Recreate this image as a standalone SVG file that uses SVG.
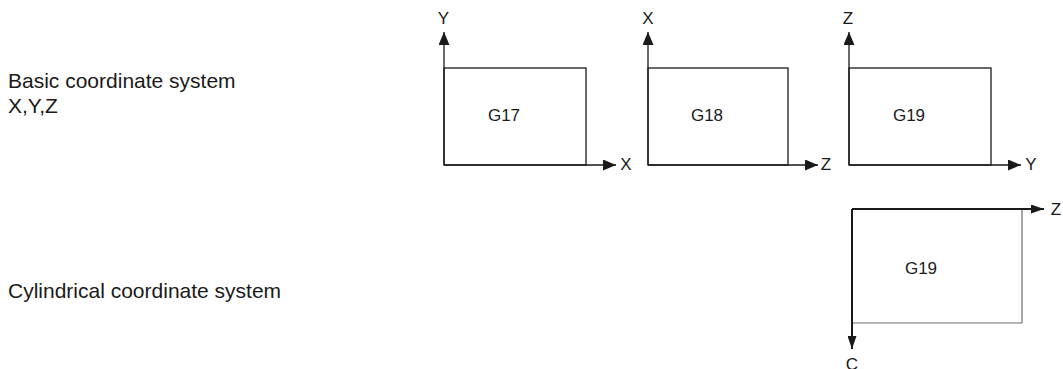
<svg xmlns="http://www.w3.org/2000/svg" width="1063" height="369" viewBox="0 0 1063 369">
<style>
  text { font-family: "Liberation Sans", Arial, sans-serif; fill: #1a1a1a; }
  .lbl { font-size: 17px; }
  .ax { font-size: 17px; }
  .side { font-size: 21px; }
  .box { fill: #ffffff; stroke: #1a1a1a; stroke-width: 1.3; }
  .axis { stroke: #1a1a1a; stroke-width: 1.3; fill: none; }
  .thick { stroke: #1a1a1a; stroke-width: 2; fill: none; }
  .thin { stroke: #6e6e6e; stroke-width: 1.2; fill: none; }
</style>
<defs>
  <marker id="arr" markerUnits="userSpaceOnUse" markerWidth="14" markerHeight="11" refX="13" refY="5.5" orient="auto">
    <path d="M0,0 L13,5.5 L0,11 Z" fill="#1a1a1a"/>
  </marker>
  <marker id="arr2" markerUnits="userSpaceOnUse" markerWidth="14" markerHeight="9" refX="13" refY="4.5" orient="auto">
    <path d="M0,0 L13,4.5 L0,9 Z" fill="#1a1a1a"/>
  </marker>
</defs>
<rect width="1063" height="369" fill="#ffffff"/>

<g id="side-labels">
  <text class="side" x="8" y="87.5">Basic coordinate system</text>
  <text class="side" x="8" y="112.5">X,Y,Z</text>
  <text class="side" x="8" y="298">Cylindrical coordinate system</text>
</g>

<g id="g17">
  <rect class="box" x="444" y="68" width="142" height="97"/>
  <text class="lbl" x="504" y="120.5" text-anchor="middle">G17</text>
  <text class="ax" x="443.5" y="23.5" text-anchor="middle">Y</text>
  <text class="ax" x="626" y="170" text-anchor="middle">X</text>
</g>
<g id="g18">
  <rect class="box" x="648" y="68" width="140" height="97"/>
  <text class="lbl" x="707" y="120.5" text-anchor="middle">G18</text>
  <text class="ax" x="648" y="23.5" text-anchor="middle">X</text>
  <text class="ax" x="826" y="170" text-anchor="middle">Z</text>
</g>
<g id="g19">
  <rect class="box" x="849" y="68" width="142" height="97"/>
  <text class="lbl" x="909" y="120.5" text-anchor="middle">G19</text>
  <text class="ax" x="848" y="23.5" text-anchor="middle">Z</text>
  <text class="ax" x="1031" y="170" text-anchor="middle">Y</text>
</g>
<g id="g19-cyl">
  <line class="thin" x1="1022" y1="209" x2="1022" y2="323"/>
  <line class="thin" x1="852" y1="323" x2="1022" y2="323"/>
  <text class="lbl" x="921" y="273.5" text-anchor="middle">G19</text>
  <text class="ax" x="1056" y="215" text-anchor="middle">Z</text>
  <text class="ax" x="852" y="370" text-anchor="middle">C</text>
</g>

<g id="connectors">
  <path class="axis" d="M444,165 V32" marker-end="url(#arr)"/>
  <path class="axis" d="M444,165 H616" marker-end="url(#arr)"/>
  <path class="axis" d="M648,165 V32" marker-end="url(#arr)"/>
  <path class="axis" d="M648,165 H818" marker-end="url(#arr)"/>
  <path class="axis" d="M849,165 V32" marker-end="url(#arr)"/>
  <path class="axis" d="M849,165 H1021" marker-end="url(#arr)"/>
  <path class="thick" d="M852,209 H1044" marker-end="url(#arr2)"/>
  <path class="thick" d="M852,209 V349" marker-end="url(#arr2)"/>
</g>
</svg>
